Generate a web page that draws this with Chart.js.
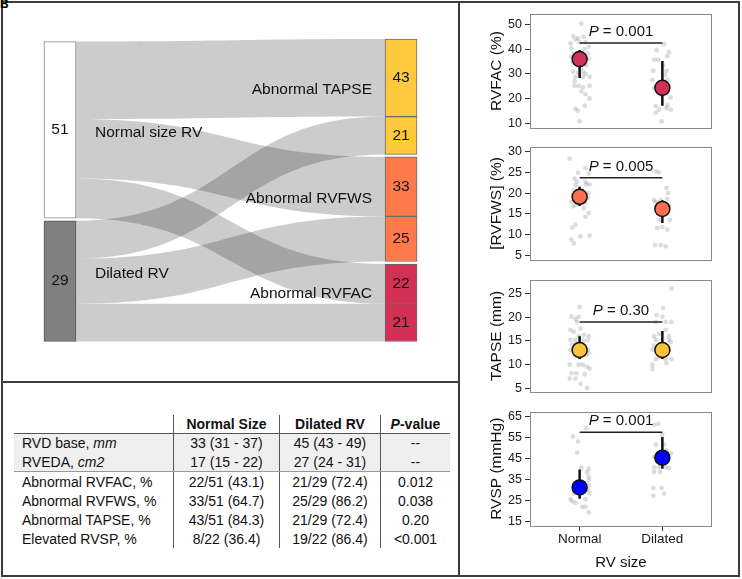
<!DOCTYPE html>
<html>
<head>
<meta charset="utf-8">
<script src="https://cdn.jsdelivr.net/npm/chart.js@4.4.1/dist/chart.umd.min.js"></script>
<style>
  body { margin: 0; background: #fff; font-family: 'Liberation Sans', Arial, sans-serif; }
  #fig { position: relative; width: 742px; height: 579px; overflow: hidden; }
  #fig canvas { position: absolute; }
  .line { position: absolute; background: #3c3c3c; }
  #frame { position: absolute; left: 1px; top: 1px; width: 735px; height: 572px; border: 2px solid #3c3c3c; }
  #tag { position: absolute; left: 0; top: -3px; font: bold 12px 'Liberation Sans', Arial, sans-serif; }
  #tbl { position: absolute; left: 14px; top: 415px; border-collapse: collapse; font-size: 14px; color: #111; }
  #tbl td, #tbl th { padding: 0; text-align: center; white-space: nowrap; }
  #tbl td:first-child, #tbl th:first-child { text-align: left; padding-left: 8px; }
  #tbl td + td, #tbl th + th { border-left: 1px solid #555; }
  #tbl th { height: 18px; border-bottom: 1.5px solid #555; font-weight: bold; }
  #tbl tr.shade td { background: #efefef; height: 18.5px; }
  #tbl tr.split td { border-bottom: 1px solid #999; }
  #tbl tr.plain td { height: 19px; }
</style>
</head>
<body>
<div id="fig">
  <div id="frame"></div>
  <div class="line" style="left:458px; top:1px; width:2px; height:576px;"></div>
  <div class="line" style="left:1px; top:381px; width:459px; height:2px;"></div>
  <div id="tag">B</div>
  <canvas id="sankey" width="455" height="378" style="left:3px; top:3px;"></canvas>
  <table id="tbl"></table>
  <canvas id="p1" width="260" height="136" style="left:462px; top:3px;"></canvas>
  <canvas id="p2" width="260" height="135" style="left:462px; top:136px;"></canvas>
  <canvas id="p3" width="260" height="134" style="left:462px; top:269px;"></canvas>
  <canvas id="p4" width="260" height="177" style="left:462px; top:401px;"></canvas>
</div>
<script>
// ---- sankey data ----
const sizeGroups = ['Normal size RV', 'Dilated RV'];
const sizePatients = [51, 29];
const outcomeNames = ['Abnormal TAPSE', 'Abnormal RVFWS', 'Abnormal RVFAC'];
const outcomeNormal = [43, 33, 22];
const outcomeDilated = [21, 25, 21];

// ---- table data ----
const tableHead = ['', 'Normal Size', 'Dilated RV', '<i>P</i>-value'];
const rowNames = ['RVD base, <i>mm</i>', 'RVEDA, <i>cm2</i>', 'Abnormal RVFAC, %',
    'Abnormal RVFWS, %', 'Abnormal TAPSE, %', 'Elevated RVSP, %'];
const normalCol = ['33 (31 - 37)', '17 (15 - 22)', '22/51 (43.1)', '33/51 (64.7)', '43/51 (84.3)', '8/22 (36.4)'];
const dilatedCol = ['45 (43 - 49)', '27 (24 - 31)', '21/29 (72.4)', '25/29 (86.2)', '21/29 (72.4)', '19/22 (86.4)'];
const pCol = ['--', '--', '0.012', '0.038', '0.20', '&lt;0.001'];

// ---- dot plot data ----
const rvSizeLabels = ['Normal', 'Dilated'];

const rvfacNormal = [50.3, 45.3, 43.9, 42.3, 42.8, 42.8, 40.9, 40.3, 38.3, 38.3, 36.1, 34.8, 34.8, 31, 31, 30,
    28.8, 28.8, 28.8, 25.2, 25.2, 25.2, 24.6, 21.9, 20.1, 17.2, 16, 15.2, 10.9,
    44.5, 45, 37, 33.5, 27, 23, 30.5, 40, 35.5, 32.5];
const rvfacNormalJit = [0.02, -0.08, -0.05, -0.11, 0, 0.07, 0.11, -0.1, -0.07, 0.1, 0.11, -0.08, 0.01, -0.08, 0.04, 0.07,
    -0.05, 0.04, 0.12, -0.06, -0.01, 0.12, 0.04, 0.07, 0.12, 0.06, -0.05, -0.02, 0,
    -0.02, 0.05, -0.1, 0.08, -0.06, 0.02, -0.02, 0.06, -0.04, 0.01];
const rvfacDilated = [42, 39.6, 38.8, 37.2, 35.7, 35.7, 31.3, 31.3, 29.6, 27.6, 27.6, 26.4, 24.3, 24, 21.6,
    17, 14.4, 15.6, 16.2, 15.6, 17.4, 10.9, 20.5, 33.5];
const rvfacDilatedJit = [0.02, -0.07, 0.08, 0.06, -0.1, -0.05, -0.11, 0.05, 0.03, -0.12, 0.06, -0.04, -0.1, 0.06, -0.01,
    -0.08, -0.08, -0.04, 0.05, 0.1, 0.06, -0.01, 0.1, 0.01];
const rvfacMedian = [36, 24.4];
const rvfacQ1 = [28.4, 17.2];
const rvfacQ3 = [39.7, 35.2];
const rvfacTicks = [10, 20, 30, 40, 50];

const rvfwsNormal = [28.3, 24.9, 26, 24.7, 22.7, 21.9, 22.7, 22.1, 22.1, 20.7, 20.5, 20, 17.9, 17.9, 17.6, 17.1,
    16.4, 15.2, 14.3, 12.4, 11.7, 9.6, 9.8, 8.8, 7.9, 19.5, 18.5, 23.5, 18.8, 16.8];
const rvfwsNormalJit = [-0.12, -0.02, 0.07, 0.11, -0.03, -0.05, 0.07, 0.08, 0.12, -0.07, 0.03, 0.11, -0.1, 0, 0.07, -0.05,
    0.05, 0.11, 0.07, -0.05, -0.09, 0.01, 0.12, -0.1, -0.07, -0.01, 0.04, -0.06, 0.1, -0.08];
const rvfwsDilated = [25.2, 25, 21.2, 20, 18.3, 17.9, 18.3, 18.6, 15.2, 13.6, 13.6, 11.6, 11.8, 11.2, 7.5, 7.5, 7.2,
    16.5, 16, 17];
const rvfwsDilatedJit = [-0.08, -0.04, 0.05, 0.07, -0.1, -0.08, -0.02, 0.06, 0.04, 0.09, -0.04, -0.06, 0, 0.06, -0.09, -0.02, 0.04,
    0.01, -0.06, 0.08];
const rvfwsMedian = [19.1, 16.2];
const rvfwsQ1 = [16.9, 12.8];
const rvfwsQ3 = [21.5, 18.3];
const rvfwsTicks = [5, 10, 15, 20, 25, 30];

const tapseNormal = [22.1, 20.1, 20.1, 19, 19.6, 17.3, 16.9, 17.6, 16.2, 16, 16, 15.2, 15.2, 15, 15.2, 14.2, 14.4,
    13.1, 13.1, 11.8, 12, 12.4, 10, 10, 10, 9.6, 9.2, 8.2, 8.2, 8, 7.1, 7.1, 6, 5.1, 14, 12.5, 13.5];
const tapseNormalJit = [0, -0.1, -0.01, -0.03, -0.05, -0.11, -0.07, 0.01, 0.05, 0.11, -0.01, -0.11, -0.05, 0.05, 0.1, -0.09, -0.05,
    -0.11, 0.1, -0.05, 0.07, 0.11, -0.12, -0.01, 0.04, 0.09, 0.12, -0.1, -0.04, 0.06, -0.12, -0.05, 0.01, 0.09, 0.01, -0.02, 0.05];
const tapseDilated = [26, 21.9, 20.4, 20.1, 19, 19, 19, 17.3, 16, 16, 16.5, 15.2, 15.2, 14.8, 14, 13.8, 13.1, 13.1,
    11.2, 11.2, 11.2, 11.6, 10, 10.3, 9.1];
const tapseDilatedJit = [0.11, 0.01, -0.07, 0, -0.08, 0.04, 0.11, 0.04, -0.1, 0.08, -0.04, -0.08, 0.08, 0.1, -0.1, 0.04, -0.12, 0.08,
    -0.08, 0.04, 0.11, -0.04, -0.12, 0.05, -0.12];
const tapseMedian = [13.1, 13.1];
const tapseQ1 = [11.2, 11.2];
const tapseQ3 = [16, 17.1];
const tapseTicks = [5, 10, 15, 20, 25];

const rvspNormal = [59.5, 55.6, 53.2, 47.9, 40.6, 40.3, 38.6, 36.5, 34.8, 32.5, 30.5, 28.7, 25.8, 24.1, 25.8, 22.2,
    22.2, 19.6, 28.5, 31, 33, 24.8];
const rvspNormalJit = [0.08, -0.08, -0.02, -0.03, 0.02, 0.11, 0.09, 0.11, 0.11, 0.11, 0.1, 0.12, -0.11, -0.05, 0.07, 0.03,
    0.07, 0.11, -0.07, -0.04, 0.04, -0.09];
const rvspDilated = [61.6, 61.1, 56.5, 51.8, 51.8, 45.8, 45.8, 47.5, 41, 41, 41, 40.5, 38.7, 38.7, 31.2, 31.2, 28.5,
    27.4, 44, 43, 49, 47];
const rvspDilatedJit = [-0.05, -0.1, 0, -0.08, 0.02, -0.1, -0.08, 0.1, -0.1, -0.04, 0.04, 0.08, -0.1, -0.03, -0.11, -0.01, 0.02,
    -0.11, 0.06, -0.01, 0.05, -0.05];
const rvspMedian = [31.4, 45.5];
const rvspQ1 = [26, 40.3];
const rvspQ3 = [39.9, 55.3];
const rvspTicks = [15, 25, 35, 45, 55, 65];

Chart.defaults.font.family = "'Liberation Sans', Arial, sans-serif";
Chart.defaults.animation = false;
Chart.defaults.color = '#1a1a1a';

const FONT = "'Liberation Sans', Arial, sans-serif";

// ---------- sankey ----------
const flowCounts = [outcomeNormal, outcomeDilated];
const NODE_GAP = 1.4;
const NODE_W = 32;
const nodeColors = ['#ffffff', '#808080'];
const outcomeColors = ['#fec93f', '#ff7a4b', '#d23153'];

const rightSlots = [];   // one per (outcome, group)
const outcomeSpan = [];
let pos = 0;
outcomeNames.forEach(function(name, k) {
    const start = pos;
    flowCounts.forEach(function(row, g) {
        rightSlots.push({ g: g, k: k, y0: pos, y1: pos + row[k] });
        pos += row[k];
    });
    outcomeSpan.push([start, pos]);
    pos += NODE_GAP;
});
const rightTotal = pos - NODE_GAP;
const leftTotal = flowCounts.reduce((s, r) => s + r.reduce((a, b) => a + b, 0), 0) + NODE_GAP * (flowCounts.length - 1);
let lpos = rightTotal - leftTotal;
const leftNodes = [];
const leftSlots = {};
flowCounts.forEach(function(row, g) {
    const start = lpos;
    row.forEach(function(c, k) {
        leftSlots[g + '-' + k] = [lpos, lpos + c];
        lpos += c;
    });
    leftNodes.push([start, lpos]);
    lpos += NODE_GAP;
});

const nodeData = [];
const nodeFill = [];
const nodeBorder = [];
leftNodes.forEach(function(n, g) {
    nodeData.push({ x: 1, y: n });
    nodeFill.push(nodeColors[g]);
    nodeBorder.push(g === 0 ? '#8a8a8a' : '#555');
});
rightSlots.forEach(function(s) {
    nodeData.push({ x: 2, y: [s.y0, s.y1] });
    nodeFill.push(outcomeColors[s.k]);
    nodeBorder.push('#6a6a6a');
});

const groupLabelDy = [3, -7];
const outcomeLabelDy = [-7, -10, -9];

const sankeyPlugin = {
    id: 'sankeyFlows',
    beforeDatasetsDraw(chart) {
        const { ctx, scales: { x, y } } = chart;
        const xa = x.getPixelForValue(1) + NODE_W / 2;
        const xb = x.getPixelForValue(2) - NODE_W / 2;
        const xm = (xa + xb) / 2;
        ctx.save();
        ctx.fillStyle = 'rgba(0,0,0,0.2)';
        rightSlots.forEach(function(s) {
            const l = leftSlots[s.g + '-' + s.k];
            const l0 = y.getPixelForValue(l[0]), l1 = y.getPixelForValue(l[1]);
            const r0 = y.getPixelForValue(s.y0), r1 = y.getPixelForValue(s.y1);
            ctx.beginPath();
            ctx.moveTo(xa, l0);
            ctx.bezierCurveTo(xm, l0, xm, r0, xb, r0);
            ctx.lineTo(xb, r1);
            ctx.bezierCurveTo(xm, r1, xm, l1, xa, l1);
            ctx.closePath();
            ctx.fill();
        });
        ctx.restore();
    },
    afterDatasetsDraw(chart) {
        const { ctx, scales: { x, y } } = chart;
        const x1 = x.getPixelForValue(1), x2 = x.getPixelForValue(2);
        ctx.save();
        ctx.font = '15.5px ' + FONT;
        ctx.fillStyle = '#111';
        ctx.textBaseline = 'middle';
        ctx.textAlign = 'center';
        leftNodes.forEach(function(n, g) {
            ctx.fillText(String(sizePatients[g]), x1, y.getPixelForValue((n[0] + n[1]) / 2));
        });
        rightSlots.forEach(function(s) {
            ctx.fillText(String(flowCounts[s.g][s.k]), x2, y.getPixelForValue((s.y0 + s.y1) / 2));
        });
        ctx.textAlign = 'left';
        leftNodes.forEach(function(n, g) {
            ctx.fillText(sizeGroups[g], x1 + NODE_W / 2 + 19, y.getPixelForValue((n[0] + n[1]) / 2) + groupLabelDy[g]);
        });
        ctx.textAlign = 'right';
        outcomeSpan.forEach(function(sp, k) {
            ctx.fillText(outcomeNames[k], x2 - NODE_W / 2 - 13, y.getPixelForValue((sp[0] + sp[1]) / 2) + outcomeLabelDy[k]);
        });
        ctx.restore();
    }
};

new Chart(document.getElementById('sankey'), {
    type: 'bar',
    data: {
        datasets: [{
            data: nodeData,
            backgroundColor: nodeFill,
            borderColor: nodeBorder,
            borderWidth: 1,
            borderSkipped: false,
            barThickness: NODE_W
        }]
    },
    options: {
        responsive: false,
        devicePixelRatio: 1,
        layout: { padding: 0 },
        plugins: { legend: { display: false }, tooltip: { enabled: false } },
        scales: {
            x: { type: 'linear', display: false, min: 0.833, max: 2.167, offset: false },
            y: { type: 'linear', display: false, min: -20, max: 189.7, reverse: true }
        }
    },
    plugins: [sankeyPlugin]
});

// ---------- table ----------
(function buildTable() {
    const t = document.getElementById('tbl');
    const widths = [151, 105, 100, 69];
    let html = '<tr>' + tableHead.map((h, i) => '<th style="width:' + widths[i] + 'px">' + h + '</th>').join('') + '</tr>';
    rowNames.forEach(function(name, i) {
        const cls = i < 2 ? 'shade' + (i === 1 ? ' split' : '') : 'plain';
        html += '<tr class="' + cls + '"><td>' + name + '</td><td>' + normalCol[i] + '</td><td>' +
            dilatedCol[i] + '</td><td>' + pCol[i] + '</td></tr>';
    });
    t.innerHTML = html;
})();

// ---------- dot plots ----------
const panelPlugin = {
    id: 'panel',
    afterDatasetsDraw(chart, args, o) {
        const { ctx, chartArea: a, scales: { x, y } } = chart;
        ctx.save();
        ctx.strokeStyle = '#8a8a8a';
        ctx.lineWidth = 1;
        ctx.strokeRect(Math.round(a.left) + 0.5, Math.round(a.top) + 0.5, Math.round(a.width) - 1, Math.round(a.height) - 1);
        const cx = x.getPixelForValue(1.5);
        const by = y.getPixelForValue(o.pY) - 7;
        ctx.fillStyle = '#111';
        ctx.textBaseline = 'alphabetic';
        ctx.font = 'italic 15px ' + FONT;
        const wP = ctx.measureText('P').width;
        ctx.font = '15px ' + FONT;
        const rest = ' = ' + o.pText;
        const wR = ctx.measureText(rest).width;
        const x0 = cx - (wP + wR) / 2;
        ctx.font = 'italic 15px ' + FONT;
        ctx.textAlign = 'left';
        ctx.fillText('P', x0, by);
        ctx.font = '15px ' + FONT;
        ctx.fillText(rest, x0 + wP, by);
        ctx.restore();
    }
};

function dotPlot(id, cfg) {
    const toPts = (vals, jit, c) => vals.map((v, i) => ({ x: c + jit[i], y: v }));
    const datasets = [
        {
            data: [{ x: 1, y: cfg.median[0] }, { x: 2, y: cfg.median[1] }],
            pointRadius: 7.5, backgroundColor: cfg.color, borderColor: '#111', borderWidth: 1.5, order: 0
        }
    ];
    [0, 1].forEach(function(g) {
        datasets.push({
            data: [{ x: g + 1, y: cfg.q1[g] }, { x: g + 1, y: cfg.q3[g] }],
            showLine: true, borderColor: '#111', borderWidth: 2.5, pointRadius: 0, order: 1
        });
    });
    datasets.push({
        data: [{ x: 1, y: cfg.pY }, { x: 2, y: cfg.pY }],
        showLine: true, borderColor: '#222', borderWidth: 1.5, pointRadius: 0, order: 1
    });
    datasets.push({
        data: toPts(cfg.normal, cfg.normalJit, 1).concat(toPts(cfg.dilated, cfg.dilatedJit, 2)),
        pointRadius: 2.4, backgroundColor: 'rgba(130,130,130,0.28)', borderWidth: 0, order: 2
    });

    const xAxis = cfg.showX ? {
        type: 'linear', min: 0.4, max: 2.6,
        afterBuildTicks: s => { s.ticks = rvSizeLabels.map((l, i) => ({ value: i + 1 })); },
        afterFit: s => { s.height = 52; },
        ticks: { callback: v => rvSizeLabels[v - 1], font: { size: 13.5 }, color: '#1a1a1a', padding: 0, maxRotation: 0 },
        grid: { drawOnChartArea: false, drawTicks: true, tickLength: 5, color: '#333' },
        border: { display: false },
        title: { display: true, text: 'RV size', font: { size: 15 }, color: '#111', padding: { top: 0, bottom: 6 } }
    } : { type: 'linear', min: 0.4, max: 2.6, display: false };

    new Chart(document.getElementById(id), {
        type: 'scatter',
        data: { datasets: datasets },
        options: {
            responsive: false,
            devicePixelRatio: 1,
            layout: { padding: { left: 0, right: 10, top: 10, bottom: cfg.showX ? 0 : 10 } },
            plugins: {
                legend: { display: false }, tooltip: { enabled: false },
                panel: { pText: cfg.pText, pY: cfg.pY }
            },
            scales: {
                x: xAxis,
                y: {
                    type: 'linear', min: cfg.yMin, max: cfg.yMax,
                    afterBuildTicks: s => { s.ticks = cfg.ticks.map(v => ({ value: v })); },
                    afterFit: s => { s.width = 68; },
                    ticks: { font: { size: 12.5 }, color: '#1a1a1a', padding: 3 },
                    grid: { drawOnChartArea: false, drawTicks: true, tickLength: 5, color: '#333' },
                    border: { display: false },
                    title: { display: true, text: cfg.title, font: { size: 15.5 }, color: '#111', padding: { top: 25, bottom: 0 } }
                }
            }
        },
        plugins: [panelPlugin]
    });
}

dotPlot('p1', {
    normal: rvfacNormal, normalJit: rvfacNormalJit, dilated: rvfacDilated, dilatedJit: rvfacDilatedJit,
    median: rvfacMedian, q1: rvfacQ1, q3: rvfacQ3, ticks: rvfacTicks, color: '#d2325a',
    yMin: 8, yMax: 54.4, title: 'RVFAC (%)', pText: '0.001', pY: 42.5
});
dotPlot('p2', {
    normal: rvfwsNormal, normalJit: rvfwsNormalJit, dilated: rvfwsDilated, dilatedJit: rvfwsDilatedJit,
    median: rvfwsMedian, q1: rvfwsQ1, q3: rvfwsQ3, ticks: rvfwsTicks, color: '#ff6f4e',
    yMin: 3.8, yMax: 31.2, title: '[RVFWS] (%)', pText: '0.005', pY: 23.7
});
dotPlot('p3', {
    normal: tapseNormal, normalJit: tapseNormalJit, dilated: tapseDilated, dilatedJit: tapseDilatedJit,
    median: tapseMedian, q1: tapseQ1, q3: tapseQ3, ticks: tapseTicks, color: '#fcc43a',
    yMin: 4.17, yMax: 27.9, title: 'TAPSE (mm)', pText: '0.30', pY: 19
});
dotPlot('p4', {
    normal: rvspNormal, normalJit: rvspNormalJit, dilated: rvspDilated, dilatedJit: rvspDilatedJit,
    median: rvspMedian, q1: rvspQ1, q3: rvspQ3, ticks: rvspTicks, color: '#0000ff',
    yMin: 13.1, yMax: 67.4, title: 'RVSP (mmHg)', pText: '0.001', pY: 57.6, showX: true
});
</script>
</body>
</html>
